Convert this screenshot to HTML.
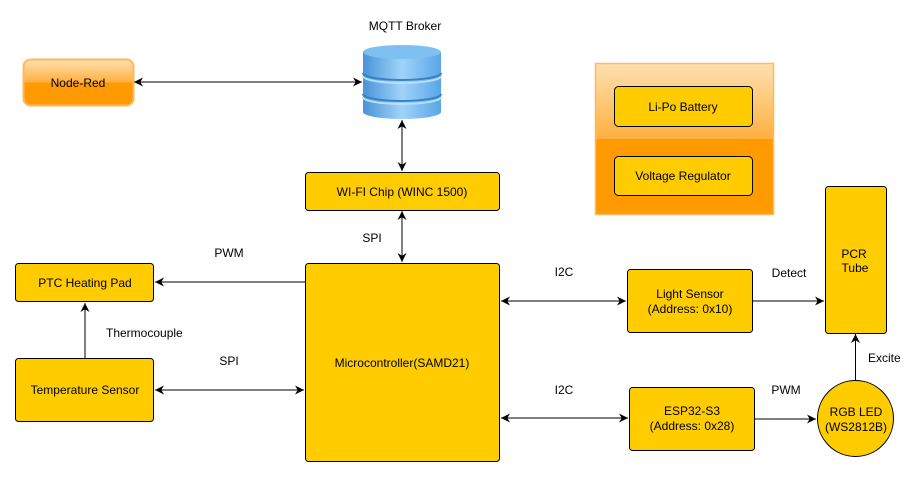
<!DOCTYPE html>
<html><head><meta charset="utf-8"><style>
html,body{margin:0;padding:0;background:#fff}
text{font-family:"Liberation Sans",Arial,sans-serif;font-size:12px;fill:#000}
</style></head><body>
<svg width="919" height="478" viewBox="0 0 919 478" xmlns="http://www.w3.org/2000/svg">
<defs>
<marker id="a" viewBox="0 0 10 10" refX="10" refY="5" markerWidth="9" markerHeight="9" orient="auto-start-reverse" markerUnits="userSpaceOnUse">
<path d="M0,0 L10,5 L0,10 L3,5 Z" fill="#000"/></marker>
<linearGradient id="og" x1="0" y1="0" x2="0" y2="1">
<stop offset="0" stop-color="#ffe0b0"/><stop offset="0.5" stop-color="#ffb040"/><stop offset="0.5" stop-color="#ff9a00"/><stop offset="1" stop-color="#ff9a00"/></linearGradient>
<linearGradient id="bg" x1="0" y1="0" x2="1" y2="0">
<stop offset="0" stop-color="#4a93d6"/><stop offset="0.5" stop-color="#9fd3fb"/><stop offset="1" stop-color="#5aa5e6"/></linearGradient>
</defs>
<!-- Node-Red -->
<rect x="23.5" y="59.5" width="110" height="46" rx="7" fill="url(#og)" stroke="#ffb760" stroke-width="2"/>
<text x="78" y="87" text-anchor="middle">Node-Red</text>
<!-- DB -->
<text x="405" y="30" text-anchor="middle" font-size="11">MQTT Broker</text>
<path d="M363,52 L363,112 A39,7 0 0 0 441,112 L441,52 Z" fill="url(#bg)"/>
<ellipse cx="402" cy="52" rx="39" ry="7" fill="#7ec0f2"/>
<path d="M363,73 A39,7 0 0 0 441,73" fill="none" stroke="#3a80c6" stroke-width="2"/>
<path d="M363,76 A39,7 0 0 0 441,76" fill="none" stroke="#b8e0fc" stroke-width="2"/>
<path d="M363,94 A39,7 0 0 0 441,94" fill="none" stroke="#3a80c6" stroke-width="2"/>
<path d="M363,97 A39,7 0 0 0 441,97" fill="none" stroke="#b8e0fc" stroke-width="2"/>
<line x1="134" y1="82" x2="362" y2="82" stroke="#000" marker-start="url(#a)" marker-end="url(#a)"/>
<line x1="402" y1="120" x2="402" y2="171" stroke="#000" marker-start="url(#a)" marker-end="url(#a)"/>
<!-- WiFi -->
<rect x="305.5" y="172.5" width="194" height="38" rx="3" fill="#ffcc00" stroke="#000"/>
<text x="402" y="196" text-anchor="middle" font-size="11">WI-FI Chip (WINC 1500)</text>
<line x1="402" y1="211" x2="402" y2="262" stroke="#000" marker-start="url(#a)" marker-end="url(#a)"/>
<text x="372" y="242" text-anchor="middle" font-size="11">SPI</text>
<!-- Micro -->
<rect x="305.5" y="263.5" width="194" height="198" rx="3" fill="#ffcc00" stroke="#000"/>
<text x="402" y="367" text-anchor="middle" font-size="11">Microcontroller(SAMD21)</text>
<!-- PTC -->
<rect x="15.5" y="263.5" width="138" height="38" rx="3" fill="#ffcc00" stroke="#000"/>
<text x="85" y="287" text-anchor="middle" font-size="11">PTC Heating Pad</text>
<line x1="305" y1="282" x2="155" y2="282" stroke="#000" marker-end="url(#a)"/>
<text x="229" y="257" text-anchor="middle" font-size="11">PWM</text>
<!-- Temp -->
<rect x="15.5" y="358.5" width="138" height="63" rx="3" fill="#ffcc00" stroke="#000"/>
<text x="85" y="394" text-anchor="middle" font-size="11">Temperature Sensor</text>
<line x1="85" y1="358" x2="85" y2="303" stroke="#000" marker-end="url(#a)"/>
<text x="106" y="337" font-size="11">Thermocouple</text>
<line x1="155" y1="390" x2="304" y2="390" stroke="#000" marker-start="url(#a)" marker-end="url(#a)"/>
<text x="229" y="365" text-anchor="middle" font-size="11">SPI</text>
<!-- I2C -->
<line x1="501" y1="301" x2="626" y2="301" stroke="#000" marker-start="url(#a)" marker-end="url(#a)"/>
<text x="564" y="276" text-anchor="middle" font-size="11">I2C</text>
<line x1="501" y1="418" x2="628" y2="418" stroke="#000" marker-start="url(#a)" marker-end="url(#a)"/>
<text x="564" y="394" text-anchor="middle" font-size="11">I2C</text>
<!-- Light -->
<rect x="627.5" y="269.5" width="125" height="63" rx="3" fill="#ffcc00" stroke="#000"/>
<text x="690" y="298" text-anchor="middle" font-size="11">Light Sensor</text>
<text x="690" y="313" text-anchor="middle" font-size="11">(Address: 0x10)</text>
<line x1="753" y1="301" x2="824" y2="301" stroke="#000" marker-end="url(#a)"/>
<text x="789" y="277" text-anchor="middle" font-size="11">Detect</text>
<!-- ESP -->
<rect x="629.5" y="387.5" width="125" height="63" rx="3" fill="#ffcc00" stroke="#000"/>
<text x="692" y="415" text-anchor="middle" font-size="11">ESP32-S3</text>
<text x="692" y="430" text-anchor="middle" font-size="11">(Address: 0x28)</text>
<line x1="755" y1="419" x2="816" y2="419" stroke="#000" marker-end="url(#a)"/>
<text x="786" y="394" text-anchor="middle" font-size="11">PWM</text>
<!-- PCR -->
<rect x="825.5" y="186.5" width="61" height="147" rx="3" fill="#ffcc00" stroke="#000"/>
<text x="854" y="258" text-anchor="middle" font-size="11">PCR</text>
<text x="855" y="272" text-anchor="middle" font-size="11">Tube</text>
<!-- RGB -->
<circle cx="855.5" cy="418.5" r="38" fill="#ffcc00" stroke="#000"/>
<text x="856" y="416" text-anchor="middle" font-size="11">RGB LED</text>
<text x="856" y="431" text-anchor="middle" font-size="11">(WS2812B)</text>
<line x1="855.5" y1="380" x2="855.5" y2="334" stroke="#000" marker-end="url(#a)"/>
<text x="868" y="362" font-size="11">Excite</text>
<!-- Power -->
<rect x="595.5" y="63.5" width="178" height="151" fill="url(#og)" stroke="#ffb760" stroke-width="1.5"/>
<rect x="614.5" y="86.5" width="138" height="40" rx="4" fill="#ffcc00" stroke="#000"/>
<text x="683" y="111" text-anchor="middle" font-size="11">Li-Po Battery</text>
<rect x="614.5" y="156.5" width="138" height="39" rx="4" fill="#ffcc00" stroke="#000"/>
<text x="683" y="180" text-anchor="middle" font-size="11">Voltage Regulator</text>
</svg>
</body></html>
